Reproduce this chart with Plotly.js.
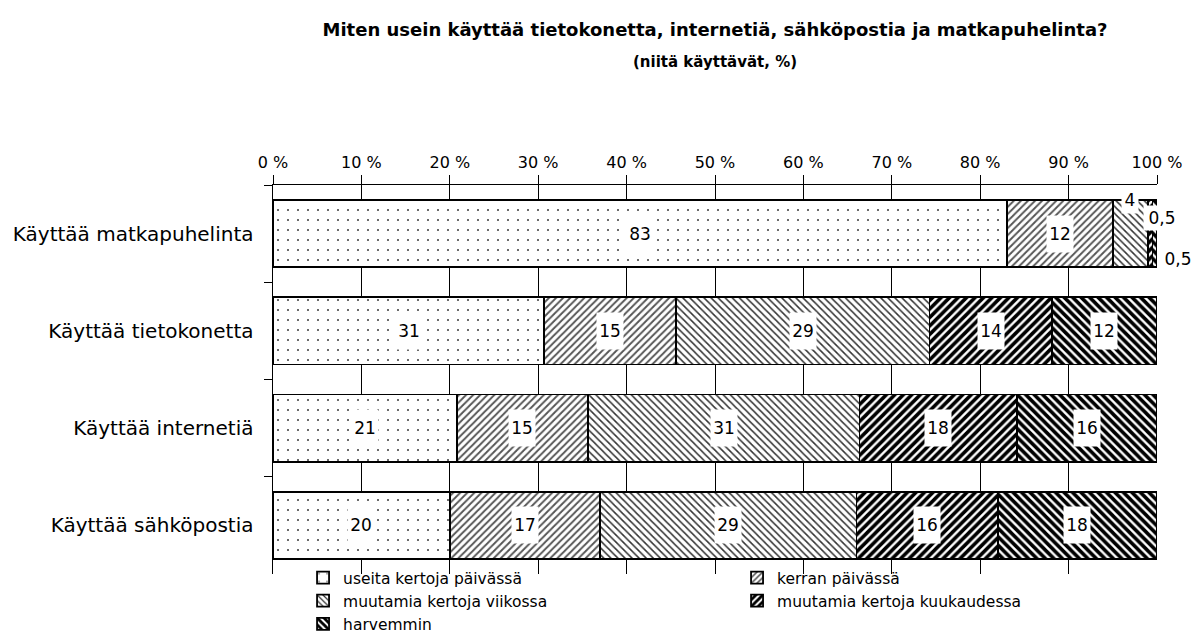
<!DOCTYPE html>
<html>
<head>
<meta charset="utf-8">
<script src="https://cdn.plot.ly/plotly-3.0.1.min.js"></script>
<style>
body{margin:0;padding:0;background:#fff;}
#chart{width:1194px;height:641px;}
</style>
</head>
<body>
<div id="chart"></div>
<script>
// ---- data ----
var categories = ["Käyttää matkapuhelinta", "Käyttää tietokonetta", "Käyttää internetiä", "Käyttää sähköpostia"];
var seriesNames = ["useita kertoja päivässä", "kerran päivässä", "muutamia kertoja viikossa", "muutamia kertoja kuukaudessa", "harvemmin"];
var useitaKertojaPaivassa = [83, 31, 21, 20];
var kerranPaivassa = [12, 15, 15, 17];
var muutamiaViikossa = [4, 29, 31, 29];
var muutamiaKuukaudessa = [0.5, 14, 18, 16];
var harvemmin = [0.5, 12, 16, 18];
var tickVals = [0, 10, 20, 30, 40, 50, 60, 70, 80, 90, 100];
var tickLabels = ["0 %", "10 %", "20 %", "30 %", "40 %", "50 %", "60 %", "70 %", "80 %", "90 %", "100 %"];
var titleLine1 = "Miten usein käyttää tietokonetta, internetiä, sähköpostia ja matkapuhelinta?";
var titleLine2 = "(niitä käyttävät, %)";

var series = [useitaKertojaPaivassa, kerranPaivassa, muutamiaViikossa, muutamiaKuukaudessa, harvemmin];

// ---- styles ----
var FONT = "DejaVu Sans";
var patterns = [
  {shape: ".", size: 10, solidity: 0.025, fgcolor: "#222", bgcolor: "#fff"},
  {shape: "/", size: 5, solidity: 0.38, fgcolor: "#555", bgcolor: "#fff"},
  {shape: "\\", size: 5, solidity: 0.3, fgcolor: "#333", bgcolor: "#fff"},
  {shape: "/", size: 6, solidity: 0.6, fgcolor: "#000", bgcolor: "#fff"},
  {shape: "\\", size: 6, solidity: 0.6, fgcolor: "#000", bgcolor: "#fff"}
];

function fmt(v){ return String(v).replace(".", ","); }

var traces = series.map(function(vals, j){
  return {
    type: "bar",
    orientation: "h",
    name: seriesNames[j],
    y: categories,
    x: vals,
    marker: {color: "#fff", line: {color: "#000", width: 1.8}, pattern: patterns[j]},
    hoverinfo: "name+x"
  };
});

// label annotations centred in each segment (normalised like barnorm percent)
var annotations = [];
var special = {
  "0-2": {xs: 0, ys: 34, xa: "center", h: 26},
  "0-3": {xs: -10, ys: 16, xa: "left", h: 24},
  "0-4": {xs: 2, ys: -25, xa: "left", h: 24}
};
categories.forEach(function(cat, i){
  var total = 0;
  series.forEach(function(s){ total += s[i]; });
  var cum = 0;
  series.forEach(function(s, j){
    var v = s[i];
    var center = (cum + v / 2) / total * 100;
    var end = (cum + v) / total * 100;
    cum += v;
    var key = i + "-" + j;
    var sp = special[key];
    var txt = fmt(v);
    var a = {
      x: sp && sp.xa === "left" ? end : center,
      y: cat, xref: "x", yref: "y",
      text: txt, showarrow: false,
      font: {family: FONT, size: 17, color: "#000"},
      bgcolor: "#fff", borderpad: 0,
      width: txt.length * 10 + 6, height: sp ? sp.h : 36,
      xanchor: sp ? sp.xa : "center"
    };
    if (sp) { a.xshift = sp.xs; a.yshift = sp.ys; }
    annotations.push(a);
  });
});

annotations.push({
  text: "<b>" + titleLine2 + "</b>", xref: "paper", yref: "paper", x: 0.5, y: 1, yshift: 123,
  xanchor: "center", yanchor: "middle", showarrow: false,
  font: {family: FONT, size: 15, color: "#000"}
});

var H = 641, MT = 185, MB = 0, PLOT_BOTTOM = 574;
var paperH = H - MT - MB;

var layout = {
  width: 1194, height: H,
  paper_bgcolor: "#fff", plot_bgcolor: "#fff",
  margin: {l: 273, r: 37, t: MT, b: MB},
  barmode: "stack", barnorm: "percent", bargap: 0.31,
  font: {family: FONT, size: 16, color: "#000"},
  title: {text: "<b>" + titleLine1 + "</b>", x: 0.5, xref: "paper", xanchor: "center", y: 0.953, yanchor: "middle",
          font: {family: FONT, size: 18, color: "#000"}},
  xaxis: {
    side: "top", range: [0, 100], tickvals: tickVals, ticktext: tickLabels,
    showgrid: true, gridcolor: "#000", gridwidth: 1,
    showline: true, linecolor: "#000", linewidth: 1.5,
    ticks: "outside", ticklen: 9, tickcolor: "#000", tickwidth: 1,
    tickfont: {family: FONT, size: 16}, zeroline: false, fixedrange: true
  },
  yaxis: {
    type: "category", autorange: "reversed",
    domain: [(H - MB - PLOT_BOTTOM) / paperH, 1],
    showgrid: false, showline: true, linecolor: "#000", linewidth: 1.5,
    ticks: "outside", tickson: "boundaries", ticklen: 8, tickcolor: "#000", tickwidth: 1,
    tickfont: {family: FONT, size: 20}, ticklabelstandoff: 14, fixedrange: true
  },
  legend: {
    orientation: "h", xref: "paper", x: 0.034, xanchor: "left",
    yref: "paper", y: 0, yanchor: "bottom",
    entrywidth: 389, entrywidthmode: "pixels", traceorder: "normal",
    font: {family: FONT, size: 15.5}, tracegroupgap: 0,
    bgcolor: "rgba(0,0,0,0)"
  },
  annotations: annotations,
  showlegend: true
};

Plotly.newPlot("chart", traces, layout, {displayModeBar: false, staticPlot: true});
</script>
</body>
</html>
